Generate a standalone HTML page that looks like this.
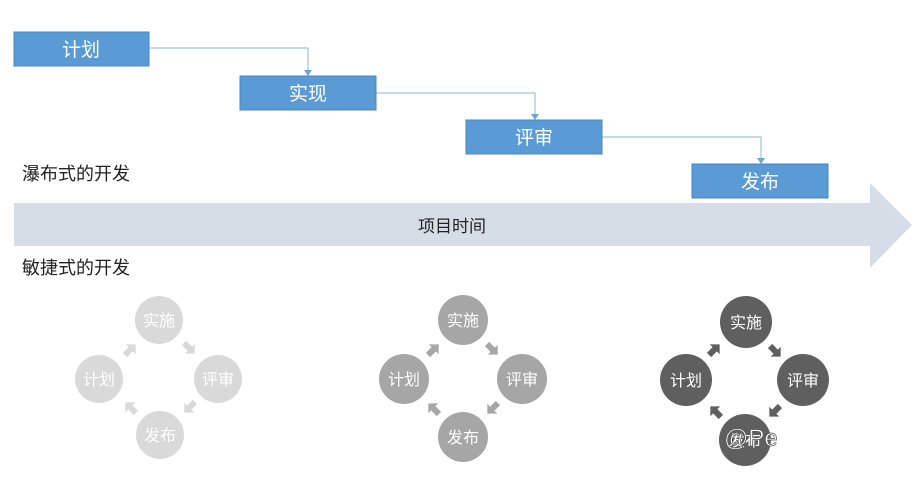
<!DOCTYPE html>
<html><head><meta charset="utf-8"><style>
body{margin:0;width:918px;height:489px;background:#fff;overflow:hidden;font-family:"Liberation Sans","Noto Sans CJK SC",sans-serif}
</style></head><body>
<svg width="918" height="489" xmlns="http://www.w3.org/2000/svg" font-family="Liberation Sans, Noto Sans CJK SC, sans-serif">
<defs>
<g id="sa"><polygon points="-7,-3 1,-3 1,-7 8,0 1,7 1,3 -7,3"/></g>
</defs>
<g stroke="#9cc3e0" stroke-width="1.2" fill="none">
<polyline points="149,48 308,48 308,72"/>
<polyline points="376,93 535,93 535,116"/>
<polyline points="602,137 761,137 761,160"/>
</g>
<g fill="#6fa3cf">
<polygon points="304,70 312,70 308,76"/>
<polygon points="531,114 539,114 535,120"/>
<polygon points="757,158 765,158 761,164"/>
</g>
<g fill="#5b9bd5" stroke="#4a86bd" stroke-width="1">
<rect x="14" y="32" width="135" height="34"/>
<rect x="240" y="76" width="136" height="34"/>
<rect x="466" y="120" width="136" height="34"/>
<rect x="692" y="164" width="136" height="34"/>
</g>
<g fill="#fff" font-size="19" text-anchor="middle">
<text x="81" y="56">计划</text>
<text x="308" y="100">实现</text>
<text x="534" y="144">评审</text>
<text x="760" y="188">发布</text>
</g>
<polygon points="14,203 870,203 870,183 912,225 870,268 870,246 14,246" fill="#d6dde6"/>
<text x="452" y="232" font-size="17" text-anchor="middle" fill="#222">项目时间</text>
<text x="22" y="180" font-size="18" fill="#222">瀑布式的开发</text>
<text x="22" y="274" font-size="18" fill="#222">敏捷式的开发</text>

<g fill="#d9d9d9">
<circle cx="159" cy="320" r="24"/><circle cx="99" cy="379" r="24"/><circle cx="218" cy="379" r="24"/><circle cx="160" cy="435" r="24"/>
<use href="#sa" transform="translate(130,350) rotate(-45)"/>
<use href="#sa" transform="translate(189,348) rotate(45)"/>
<use href="#sa" transform="translate(190,407) rotate(135)"/>
<use href="#sa" transform="translate(131,408) rotate(-135)"/>
</g>
<g fill="#a6a6a6">
<circle cx="463" cy="320" r="25"/><circle cx="404" cy="379" r="25"/><circle cx="522" cy="379" r="25"/><circle cx="463" cy="437" r="25"/>
<use href="#sa" transform="translate(433,350) rotate(-45)"/>
<use href="#sa" transform="translate(492,349) rotate(45)"/>
<use href="#sa" transform="translate(493,408) rotate(135)"/>
<use href="#sa" transform="translate(434,409) rotate(-135)"/>
</g>
<g fill="#5f5f5f">
<circle cx="746" cy="322" r="26"/><circle cx="686" cy="380" r="26"/><circle cx="803" cy="380" r="26"/><circle cx="745" cy="440" r="26"/>
<use href="#sa" transform="translate(714,350) rotate(-45)"/>
<use href="#sa" transform="translate(775,351) rotate(45)"/>
<use href="#sa" transform="translate(775,411) rotate(135)"/>
<use href="#sa" transform="translate(716,412) rotate(-135)"/>
</g>
<g fill="#fff" font-size="16" text-anchor="middle">
<text x="159" y="326">实施</text><text x="99" y="385">计划</text><text x="218" y="385">评审</text><text x="160" y="441">发布</text>
<text x="463" y="326">实施</text><text x="404" y="385">计划</text><text x="522" y="385">评审</text><text x="463" y="443">发布</text>
<text x="746" y="328">实施</text><text x="686" y="386">计划</text><text x="803" y="386">评审</text><text x="745" y="446">发布</text>
</g>
<text x="724" y="446" font-size="24" fill="#fff" stroke="#555" stroke-width="0.7">@Pe</text>
</svg>
</body></html>
